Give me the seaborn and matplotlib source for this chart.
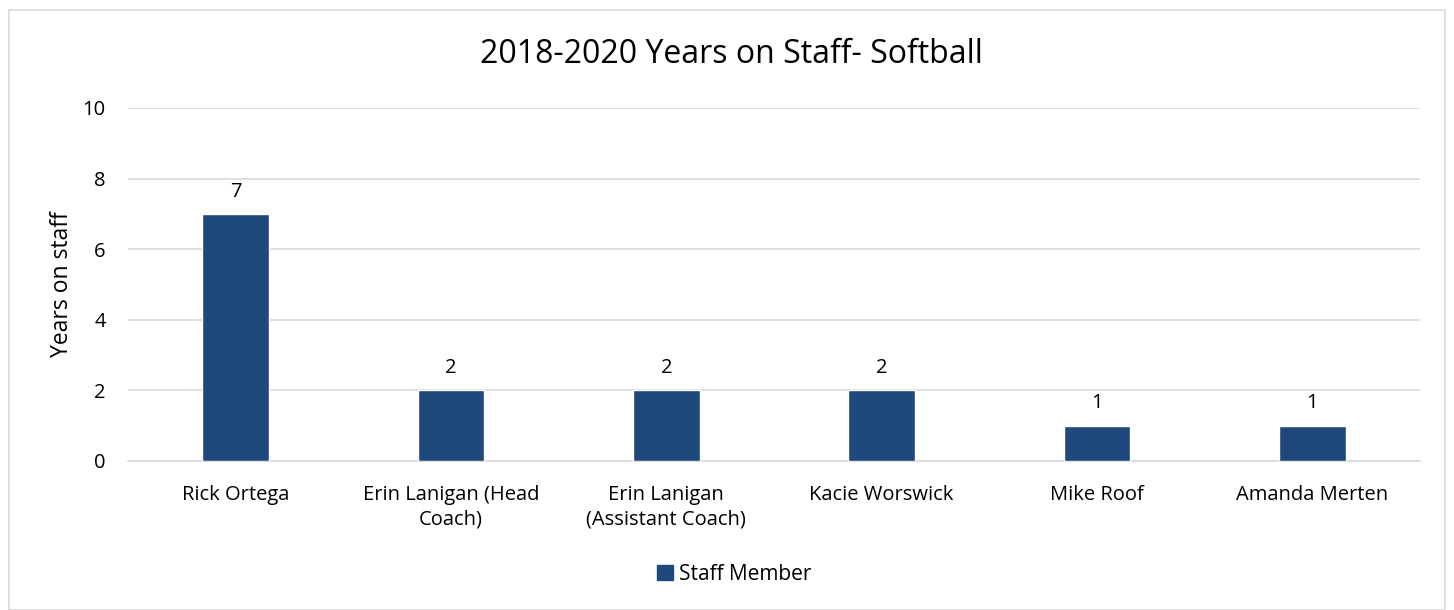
import matplotlib
matplotlib.use("Agg")
import matplotlib.pyplot as plt
import matplotlib.patches as mpatches
import seaborn as sns
import pandas as pd

staff = ["Rick Ortega", "Erin Lanigan (Head\nCoach)", "Erin Lanigan\n(Assistant Coach)",
         "Kacie Worswick", "Mike Roof", "Amanda Merten"]
years = [7, 2, 2, 2, 1, 1]
series_name = "Staff Member"
bar_color = "#1F497D"

sns.set_style("white")
plt.rcParams['font.family'] = ['Open Sans', 'DejaVu Sans']
plt.rcParams['text.color'] = "#000000"

data = pd.DataFrame({"staff": staff, "years": years})

fig = plt.figure(figsize=(14.54, 6.10), dpi=100)
ax = fig.add_axes([0.088, 0.2443, 0.8886, 0.5787])

sns.barplot(data=data, x="staff", y="years", color=bar_color, width=0.31,
            saturation=1, ax=ax, zorder=3)

for i, v in enumerate(years):
    ax.text(i, v + 0.35, str(v), ha="center", va="bottom", fontsize=14.5, color="#000000")

ax.set_ylim(0, 10)
ax.set_yticks([0, 2, 4, 6, 8, 10])
ax.yaxis.grid(True, color="#d9d9d9", linewidth=1.2, zorder=0)
ax.set_axisbelow(True)
for s in ["top", "right", "left"]:
    ax.spines[s].set_visible(False)
ax.spines["bottom"].set_color("#d9d9d9")
ax.spines["bottom"].set_linewidth(1.2)
ax.tick_params(axis="both", length=0, labelsize=14.5, colors="#000000")
ax.tick_params(axis="x", pad=17)
ax.tick_params(axis="y", pad=16)
for lbl in ax.get_xticklabels():
    lbl.set_linespacing(1.35)
ax.set_xlabel("")
ax.set_ylabel("Years on staff", fontsize=16.5, labelpad=6, color="#000000")

fig.text(0.503, 0.91, "2018-2020 Years on Staff- Softball", ha="center", va="center",
         fontsize=23, color="#000000")

handle = mpatches.Patch(color=bar_color, label=series_name)
fig.legend(handles=[handle], loc="center", bbox_to_anchor=(0.505, 0.058), frameon=False,
           fontsize=15, handlelength=0.75, handleheight=0.75, handletextpad=0.3)

fig.patches.append(mpatches.Rectangle((0.006, 0.0), 0.988, 0.983, transform=fig.transFigure,
                                      fill=False, edgecolor="#d9d9d9", linewidth=1.2))

fig.savefig("out.png", dpi=100)
